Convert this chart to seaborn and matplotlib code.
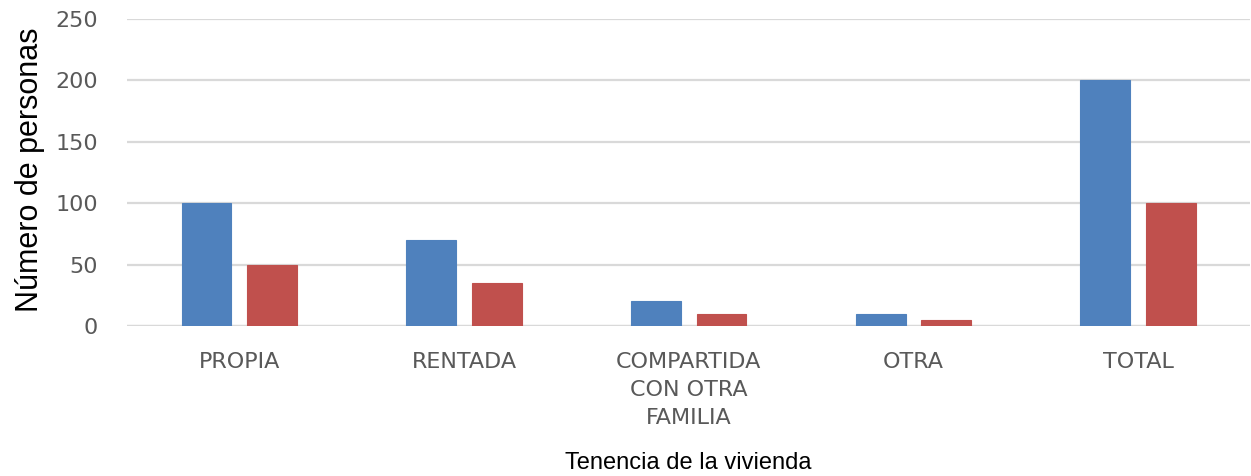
import matplotlib
matplotlib.use("Agg")
import matplotlib.pyplot as plt
import pandas as pd
import seaborn as sns

CATEGORIES = ["PROPIA", "RENTADA", "COMPARTIDA\nCON OTRA\nFAMILIA", "OTRA", "TOTAL"]
SERIES = ["Serie 1", "Serie 2"]
SERIE_1 = [100, 70, 20, 10, 200]
SERIE_2 = [50, 35, 10, 5, 100]
Y_TICKS = [0, 50, 100, 150, 200, 250]
COLORS = ["#4F81BD", "#C0504D"]


def main():
    data = pd.DataFrame({
        "categoria": CATEGORIES * 2,
        "serie": [SERIES[0]] * len(CATEGORIES) + [SERIES[1]] * len(CATEGORIES),
        "valor": SERIE_1 + SERIE_2,
    })

    sns.set_theme(style="white")
    plt.rcParams["font.family"] = ["DejaVu Sans"]

    fig = plt.figure(figsize=(12.51, 4.76), dpi=100)
    ax = fig.add_axes([0.1015, 0.315, 0.898, 0.645])

    sns.barplot(
        data=data,
        x="categoria",
        y="valor",
        hue="serie",
        order=CATEGORIES,
        hue_order=SERIES,
        palette=COLORS,
        saturation=1,
        width=0.582,
        gap=0.24,
        legend=False,
        linewidth=0.8,
        ax=ax,
        zorder=3,
    )
    for patch in ax.patches:
        patch.set_edgecolor(patch.get_facecolor())

    ax.set_ylim(0, 250)
    ax.set_yticks(Y_TICKS)
    ax.yaxis.grid(True, color="#D9D9D9", linewidth=1.6, zorder=0)
    ax.set_axisbelow(True)
    for spine in ax.spines.values():
        spine.set_visible(False)
    ax.axhline(0, color="#D9D9D9", linewidth=1.6, zorder=1)

    ax.tick_params(axis="both", length=0, colors="#595959", labelsize=16)
    ax.tick_params(axis="y", pad=21)
    ax.tick_params(axis="x", pad=19)
    for label in ax.get_xticklabels():
        label.set_linespacing(1.5)

    ax.set_xlabel("Tenencia de la vivienda", fontsize=17, color="black",
                  family=["Liberation Sans", "DejaVu Sans"])
    ax.set_ylabel("Número de personas", fontsize=22, color="black",
                  family=["Liberation Sans", "DejaVu Sans"])
    ax.xaxis.set_label_coords(0.5, -0.41)
    ax.yaxis.set_label_coords(-0.073, 0.51)

    fig.savefig("out.png", dpi=100)
    plt.close(fig)


if __name__ == "__main__":
    main()
